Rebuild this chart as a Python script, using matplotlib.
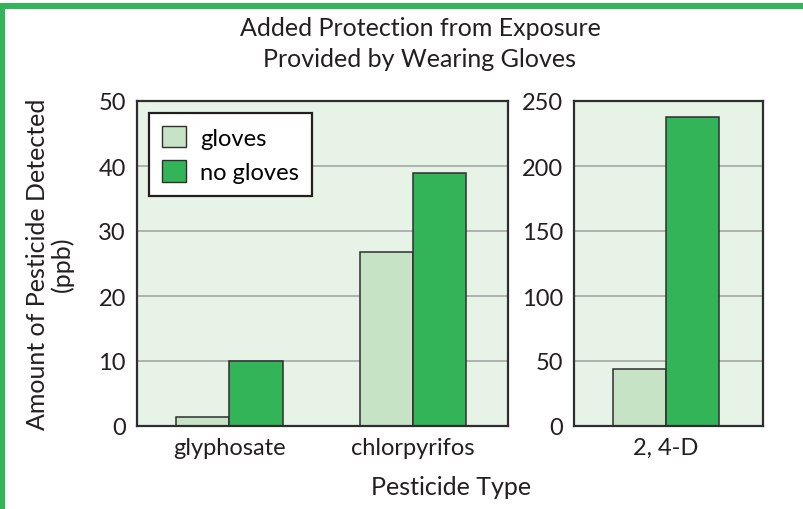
import numpy as np
import matplotlib.pyplot as plt
from matplotlib.patches import Rectangle, Patch

plt.rcParams['font.family'] = ['Lato', 'DejaVu Sans']

# small-scale pesticides (left panel) and 2,4-D (right panel), ppb
left_types = ['glyphosate', 'chlorpyrifos']
left_gloves = [1.4, 26.7]
left_no_gloves = [10, 38.9]

right_types = ['2, 4-D']
right_gloves = [43.5]
right_no_gloves = [237.5]

light = '#c6e3c6'
dark = '#33b459'
panel_bg = '#e8f3e8'
edge = '#2e2e2e'
ink = '#231f20'

fig = plt.figure(figsize=(8.04, 5.10), dpi=100)
W, H = 804, 510


def px_axes(x0, x1, y0, y1):
    return fig.add_axes([x0 / W, 1 - y1 / H, (x1 - x0) / W, (y1 - y0) / H])


ax1 = px_axes(137, 508, 102, 427)
ax2 = px_axes(574, 763, 102, 427)

width = 0.29


def draw_panel(ax, types, g, ng, ymax, step):
    x = np.arange(len(types))
    ax.set_facecolor(panel_bg)
    ax.bar(x - width / 2, g, width, color=light, edgecolor=edge, linewidth=1.1, zorder=3)
    ax.bar(x + width / 2, ng, width, color=dark, edgecolor=edge, linewidth=1.1, zorder=3)
    ax.set_ylim(0, ymax)
    ax.set_yticks(np.arange(0, ymax + 1, step))
    ax.yaxis.grid(True, color='#a5a5a5', linewidth=1.2, zorder=1)
    ax.set_xticks(x)
    ax.set_xticklabels(types)
    ax.tick_params(length=0, labelsize=17, colors=ink, pad=8)
    for s in ax.spines.values():
        s.set_color(edge)
        s.set_linewidth(1.6)
        s.set_zorder(4)


draw_panel(ax1, left_types, left_gloves, left_no_gloves, 50, 10)
ax1.set_xlim(-0.502, 1.517)
draw_panel(ax2, right_types, right_gloves, right_no_gloves, 250, 50)
ax2.set_xlim(-0.50, 0.528)

handles = [Patch(facecolor=light, edgecolor=edge, linewidth=1.0),
           Patch(facecolor=dark, edgecolor=edge, linewidth=1.0)]
leg = ax1.legend(handles, ['gloves', 'no gloves'], loc='upper left',
                 bbox_to_anchor=(0.033, 0.963), fontsize=17, fancybox=False,
                 framealpha=1, edgecolor=ink, handlelength=1.0,
                 handleheight=1.0, handletextpad=0.6, borderpad=0.55,
                 labelspacing=0.5, borderaxespad=0)
leg.get_frame().set_linewidth(1.6)

fig.text(420 / W, 1 - 44 / H, 'Added Protection from Exposure\nProvided by Wearing Gloves',
         ha='center', va='center', fontsize=18, color=ink, linespacing=1.45)
fig.text(451 / W, 1 - 488 / H, 'Pesticide Type', ha='center', va='center',
         fontsize=18, color=ink)
fig.text(50 / W, 1 - 264 / H, 'Amount of Pesticide Detected\n(ppb)', ha='center',
         va='center', rotation=90, fontsize=18, color=ink, linespacing=1.1)

# green frame along top and left edges
fig.patches.append(Rectangle((0, 1 - 9.5 / H), 1, 5.5 / H, transform=fig.transFigure,
                             facecolor='#34b45a', edgecolor='none'))
fig.patches.append(Rectangle((0, 0), 5 / W, 1 - 4 / H, transform=fig.transFigure,
                             facecolor='#34b45a', edgecolor='none'))

fig.savefig('out.png', dpi=100)
